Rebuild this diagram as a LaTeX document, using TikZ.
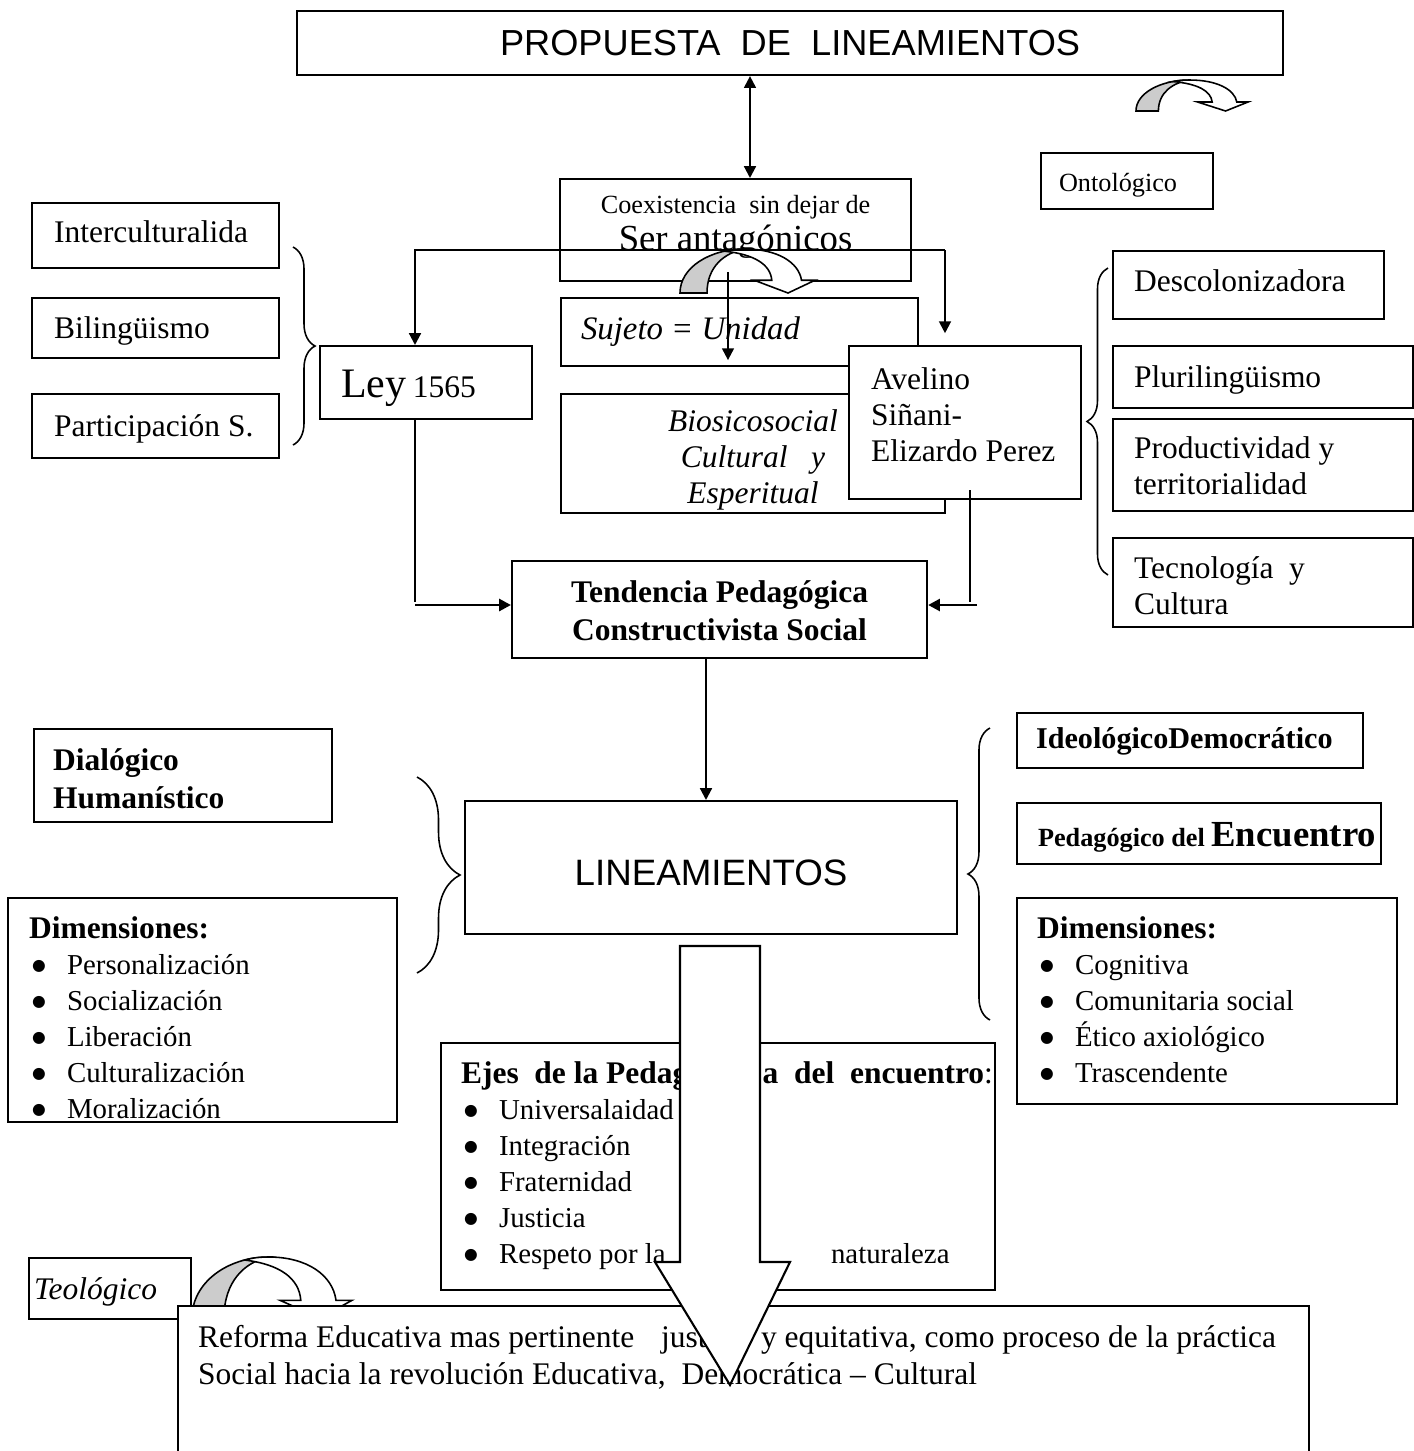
\documentclass[tikz,border=0pt]{standalone}
\usepackage{fontspec}
\setmainfont{Liberation Serif}
\newfontfamily\arialfont{Liberation Sans}
\newfontfamily\dotfont{DejaVu Sans}
\usetikzlibrary{arrows.meta,calc,decorations.pathreplacing}

\newlength{\pu}\setlength{\pu}{0.0134cm}
\newcommand{\fs}[2]{\fontsize{#1}{#2}\selectfont}
\newcommand{\inbox}[4]{\parbox[t][#2\pu][t]{#1\pu}{\vspace*{#3\pu}#4}}
\newcommand{\itm}[1]{\par\makebox[38\pu][l]{\hspace*{3\pu}\raisebox{1.4pt}{\dotfont\fs{6}{6}●}}#1}

\tikzset{
  box/.style={draw, line width=0.8pt, fill=white, inner sep=0pt, anchor=north west},
  arr/.style={-{Triangle[length=4.5pt,width=4.5pt]}, line width=0.8pt},
  dbl/.style={{Triangle[length=4.5pt,width=4.5pt]}-{Triangle[length=4.5pt,width=4.5pt]}, line width=0.8pt},
  link/.style={line width=0.8pt},
  brc/.style={decorate, decoration={brace, amplitude=#1}, line width=0.6pt},
  curvarrow/.pic={
    \filldraw[fill=gray!40, line width=0.6pt] (0,1) .. controls (0,0.42) and (0.22,0) .. (0.48,0)
      .. controls (0.33,0.08) and (0.2,0.4) .. (0.2,1) -- cycle;
    \filldraw[fill=white, line width=0.6pt] (0.33,0.05) .. controls (0.38,0.01) and (0.43,0) .. (0.48,0)
      .. controls (0.72,0) and (0.88,0.3) .. (0.9,0.71) -- (1,0.71) -- (0.8,1) -- (0.55,0.71) -- (0.68,0.71)
      .. controls (0.67,0.35) and (0.55,0.12) .. (0.33,0.05) -- cycle;
  }
}

\begin{document}
\begin{tikzpicture}[x=0.0134cm, y=-0.0134cm]

    \useasboundingbox (0,0) rectangle (1414,1451);
    \clip (0,0) rectangle (1414,1451);

    \node[box] (title) at (296,10) {\inbox{986}{64}{15.5}{\centering\arialfont\fs{13.8}{16}\strut PROPUESTA\ \ DE\ \ LINEAMIENTOS}};
    \node[box] (onto) at (1040,152) {\inbox{172}{56}{17.5}{\leftskip=18\pu\fs{10}{11.5}\strut Ontológico}};
    \node[box] (coex) at (559,178) {\inbox{351}{102}{13.5}{\centering{\fs{10}{11.5}\strut Coexistencia\ \ sin dejar de\par}{\fs{14}{13.9}Ser antagónicos\par}}};

    \node[box] (inter) at (31,202) {\inbox{247}{65}{14}{\leftskip=22\pu\fs{12}{13.8}\strut Interculturalida}};
    \node[box] (bili) at (31,297) {\inbox{247}{60}{15}{\leftskip=22\pu\fs{12}{13.8}\strut Bilingüismo}};
    \node[box] (parti) at (31,393) {\inbox{247}{64}{17}{\leftskip=22\pu\fs{12}{13.8}\strut Participación S.}};

    \node[box] (desc) at (1112,250) {\inbox{271}{68}{15}{\leftskip=21\pu\fs{12}{13.8}\strut Descolonizadora}};
    \node[box] (pluri) at (1112,345) {\inbox{300}{62}{16}{\leftskip=21\pu\fs{12}{13.8}\strut Plurilingüismo}};
    \node[box] (prod) at (1112,418) {\inbox{300}{92}{14}{\leftskip=21\pu\fs{12}{13.8}\strut Productividad y\\ territorialidad}};
    \node[box] (tecno) at (1112,537) {\inbox{300}{89}{15}{\leftskip=21\pu\fs{12}{13.8}\strut Tecnología\ \ y\\ Cultura}};

    \node[box] (suj) at (560,297) {\inbox{357}{68}{13.6}{\leftskip=20\pu\itshape\fs{12.5}{15}\strut Sujeto = Unidad}};
    \node[box] (bio) at (560,393) {\inbox{384}{119}{11.7}{\centering\itshape\fs{12}{13.8}\strut Biosicosocial\\ Cultural\ \ \ y\\ Esperitual}};
    \node[box] (ley) at (319,345) {\inbox{212}{73}{18}{\leftskip=21\pu{\fs{16}{18.4}\strut Ley} {\fs{12}{13.8}1565}}};
    \node[box] (avel) at (848,345) {\inbox{232}{153}{17.7}{\leftskip=22\pu\fs{12}{13.8}\strut Avelino\\ Siñani-\\ Elizardo Perez}};

    \node[box] (tend) at (511,560) {\inbox{415}{97}{14.8}{\centering\bfseries\fs{12}{14.5}\strut Tendencia Pedagógica\\ Constructivista Social}};
    \node[box] (lin) at (464,800) {\inbox{492}{133}{55.5}{\centering\arialfont\fs{14}{16}\strut LINEAMIENTOS}};

    \node[box] (dialog) at (33,728) {\inbox{298}{93}{14.8}{\leftskip=19\pu\bfseries\fs{12}{14.5}\strut Dialógico\\ Humanístico}};
    \node[box] (dimL) at (7,897) {\inbox{389}{224}{15}{\leftskip=21\pu\fs{12}{13.72}{\bfseries\strut Dimensiones:}\fs{11}{13.72}%
      \itm{Personalización}\itm{Socialización}\itm{Liberación}\itm{Culturalización}\itm{Moralización}}};

    \node[box] (ideo) at (1016,712) {\inbox{346}{55}{9.7}{\leftskip=19\pu\bfseries\fs{11.5}{13.8}\strut IdeológicoDemocrático}};
    \node[box] (peda) at (1016,802) {\inbox{364}{61}{13.6}{\leftskip=21\pu\bfseries{\fs{10}{16}Pedagógico del} {\fs{14}{16}\strut Encuentro}}};
    \node[box] (dimR) at (1016,897) {\inbox{380}{206}{15}{\leftskip=20\pu\fs{12}{13.72}{\bfseries\strut Dimensiones:}\fs{11}{13.72}%
      \itm{Cognitiva}\itm{Comunitaria social}\itm{Ético axiológico}\itm{Trascendente}}};

    \node[box] (ejes) at (440,1042) {\inbox{554}{247}{15}{\leftskip=20\pu\fs{12}{13.72}\strut\textbf{Ejes\ \ de la Pedagogí\hspace*{34\pu}a\ \ del\ \ encuentro}:\fs{11}{13.72}%
      \itm{Universalaidad}\itm{Integración}\itm{Fraternidad}\itm{Justicia}\itm{\makebox[332\pu][l]{Respeto por la}naturaleza}}};

    \node[box] (teol) at (28,1257) {\inbox{162}{61}{16}{\leftskip=5\pu\itshape\fs{12}{13.8}\strut Teológico}};

    \pic[xscale=112, yscale=31] at (1136,80) {curvarrow};
    \pic[xscale=135, yscale=44] at (680,249) {curvarrow};

    \draw[brc=8.4pt] (293,247) -- (293,445);
    \draw[brc=8pt] (1108,575) -- (1108,268);
    \draw[brc=16.4pt] (417,777) -- (417,973);
    \draw[brc=8.4pt] (990,1020) -- (990,728);

    \coordinate (ax) at (750,0);
    \coordinate (cx) at (728,0);
    \coordinate (mx) at (706,0);
    \coordinate (jl) at (415,250);
    \coordinate (jr) at (945,250);
    \coordinate (ll) at (415,605);
    \coordinate (rl) at (970,605);

    \draw[dbl] (title.south -| ax) -- (coex.north -| ax);
    \draw[arr] (jr) -- (jl) -- (ley.north -| jl);
    \draw[arr, shorten >=4.5pt] (jr) -- (avel.north -| jr);
    \draw[arr] ($(coex.south -| cx)+(0,-10)$) -- ($(suj.south -| cx)+(0,-7)$);

    \draw[link] (ley.south -| ll) -- ($(ll)+(0,-3)$);
    \draw[arr, line width=1.1pt] (ll) -- (tend.west |- ll);
    \draw[link] ($(avel.south -| rl)+(0,-10)$) -- ($(rl)+(0,-3)$);
    \draw[arr, line width=1.1pt] ($(rl)+(7,0)$) -- (tend.east |- rl);
    \draw[arr] (tend.south -| mx) -- (lin.north -| mx);

    \pic[xscale=160, yscale=61] at (192,1257) {curvarrow};

    \node[box] (reform) at (177,1305) {\inbox{1131}{160}{15.7}{\leftskip=20\pu\fs{12}{14}\strut
      \makebox[463\pu][l]{Reforma Educativa mas pertinente}\makebox[100\pu][l]{justa}y equitativa, como proceso de la práctica\\
      Social hacia la revolución Educativa,\ \ Democrática – Cultural}};

    \filldraw[fill=white, line width=0.8pt] (680,946) -- (760,946) -- (760,1262) -- (790,1262) -- (730,1385) -- (655,1262) -- (680,1262) -- cycle;

\end{tikzpicture}
\end{document}
